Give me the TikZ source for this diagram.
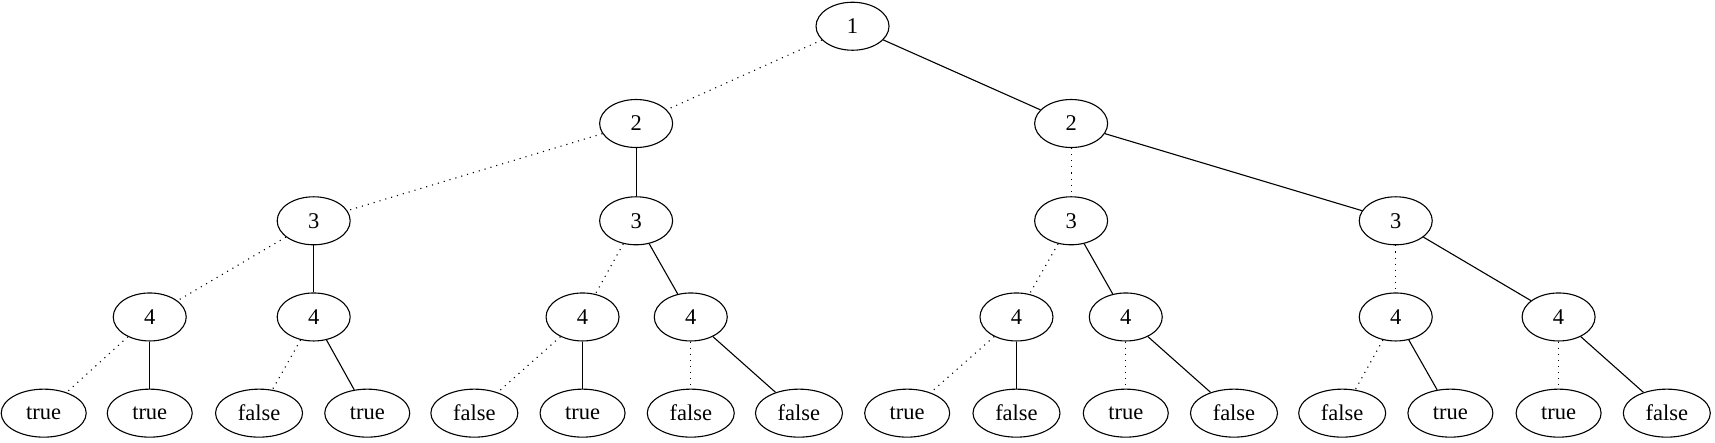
\documentclass[tikz,border=0pt]{standalone}
\usepackage{fontspec}
\setmainfont{Liberation Serif}
\usetikzlibrary{shapes.geometric}
\begin{document}
\begin{tikzpicture}[x=1.093pt,y=-1.093pt,
  nd/.style={draw,ellipse,inner sep=0pt,minimum width=73pt,minimum height=48pt,line width=1.1pt,font=\fontsize{22.5}{26}\selectfont},
  lt/.style={nd,minimum width=85pt},
  lf/.style={nd,minimum width=87pt},
  zero/.style={line width=1.1pt,dash pattern=on 1.1pt off 5pt},
  one/.style={line width=1.1pt}]
\useasboundingbox (0,0) rectangle (1569.1,405.3);
\node[nd] (r) at (780,24) {1};
\node[nd] (a) at (582,113) {2};
\node[nd] (b) at (980,113) {2};
\node[nd] (aa) at (287,202) {3};
\node[nd] (ab) at (582,202) {3};
\node[nd] (ba) at (980,202) {3};
\node[nd] (bb) at (1277,202) {3};
\node[nd] (c1) at (137,290) {4};
\node[nd] (c2) at (287,290) {4};
\node[nd] (c3) at (533,290) {4};
\node[nd] (c4) at (632,290) {4};
\node[nd] (c5) at (930,290) {4};
\node[nd] (c6) at (1030,290) {4};
\node[nd] (c7) at (1277,290) {4};
\node[nd] (c8) at (1426,290) {4};
\node[lt] (l1) at (40,378) {true};
\node[lt] (l2) at (137,378) {true};
\node[lf] (l3) at (237,378) {false};
\node[lt] (l4) at (336,378) {true};
\node[lf] (l5) at (434,378) {false};
\node[lt] (l6) at (533,378) {true};
\node[lf] (l7) at (632,378) {false};
\node[lf] (l8) at (731,378) {false};
\node[lt] (l9) at (830,378) {true};
\node[lf] (l10) at (930,378) {false};
\node[lt] (l11) at (1030,378) {true};
\node[lf] (l12) at (1129,378) {false};
\node[lf] (l13) at (1228,378) {false};
\node[lt] (l14) at (1327,378) {true};
\node[lt] (l15) at (1426,378) {true};
\node[lf] (l16) at (1525,378) {false};
\draw[zero] (r) -- (a); \draw[one] (r) -- (b);
\draw[zero] (a) -- (aa); \draw[one] (a) -- (ab);
\draw[zero] (b) -- (ba); \draw[one] (b) -- (bb);
\draw[zero] (aa) -- (c1); \draw[one] (aa) -- (c2);
\draw[zero] (ab) -- (c3); \draw[one] (ab) -- (c4);
\draw[zero] (ba) -- (c5); \draw[one] (ba) -- (c6);
\draw[zero] (bb) -- (c7); \draw[one] (bb) -- (c8);
\draw[zero] (c1) -- (l1); \draw[one] (c1) -- (l2);
\draw[zero] (c2) -- (l3); \draw[one] (c2) -- (l4);
\draw[zero] (c3) -- (l5); \draw[one] (c3) -- (l6);
\draw[zero] (c4) -- (l7); \draw[one] (c4) -- (l8);
\draw[zero] (c5) -- (l9); \draw[one] (c5) -- (l10);
\draw[zero] (c6) -- (l11); \draw[one] (c6) -- (l12);
\draw[zero] (c7) -- (l13); \draw[one] (c7) -- (l14);
\draw[zero] (c8) -- (l15); \draw[one] (c8) -- (l16);
\end{tikzpicture}
\end{document}
